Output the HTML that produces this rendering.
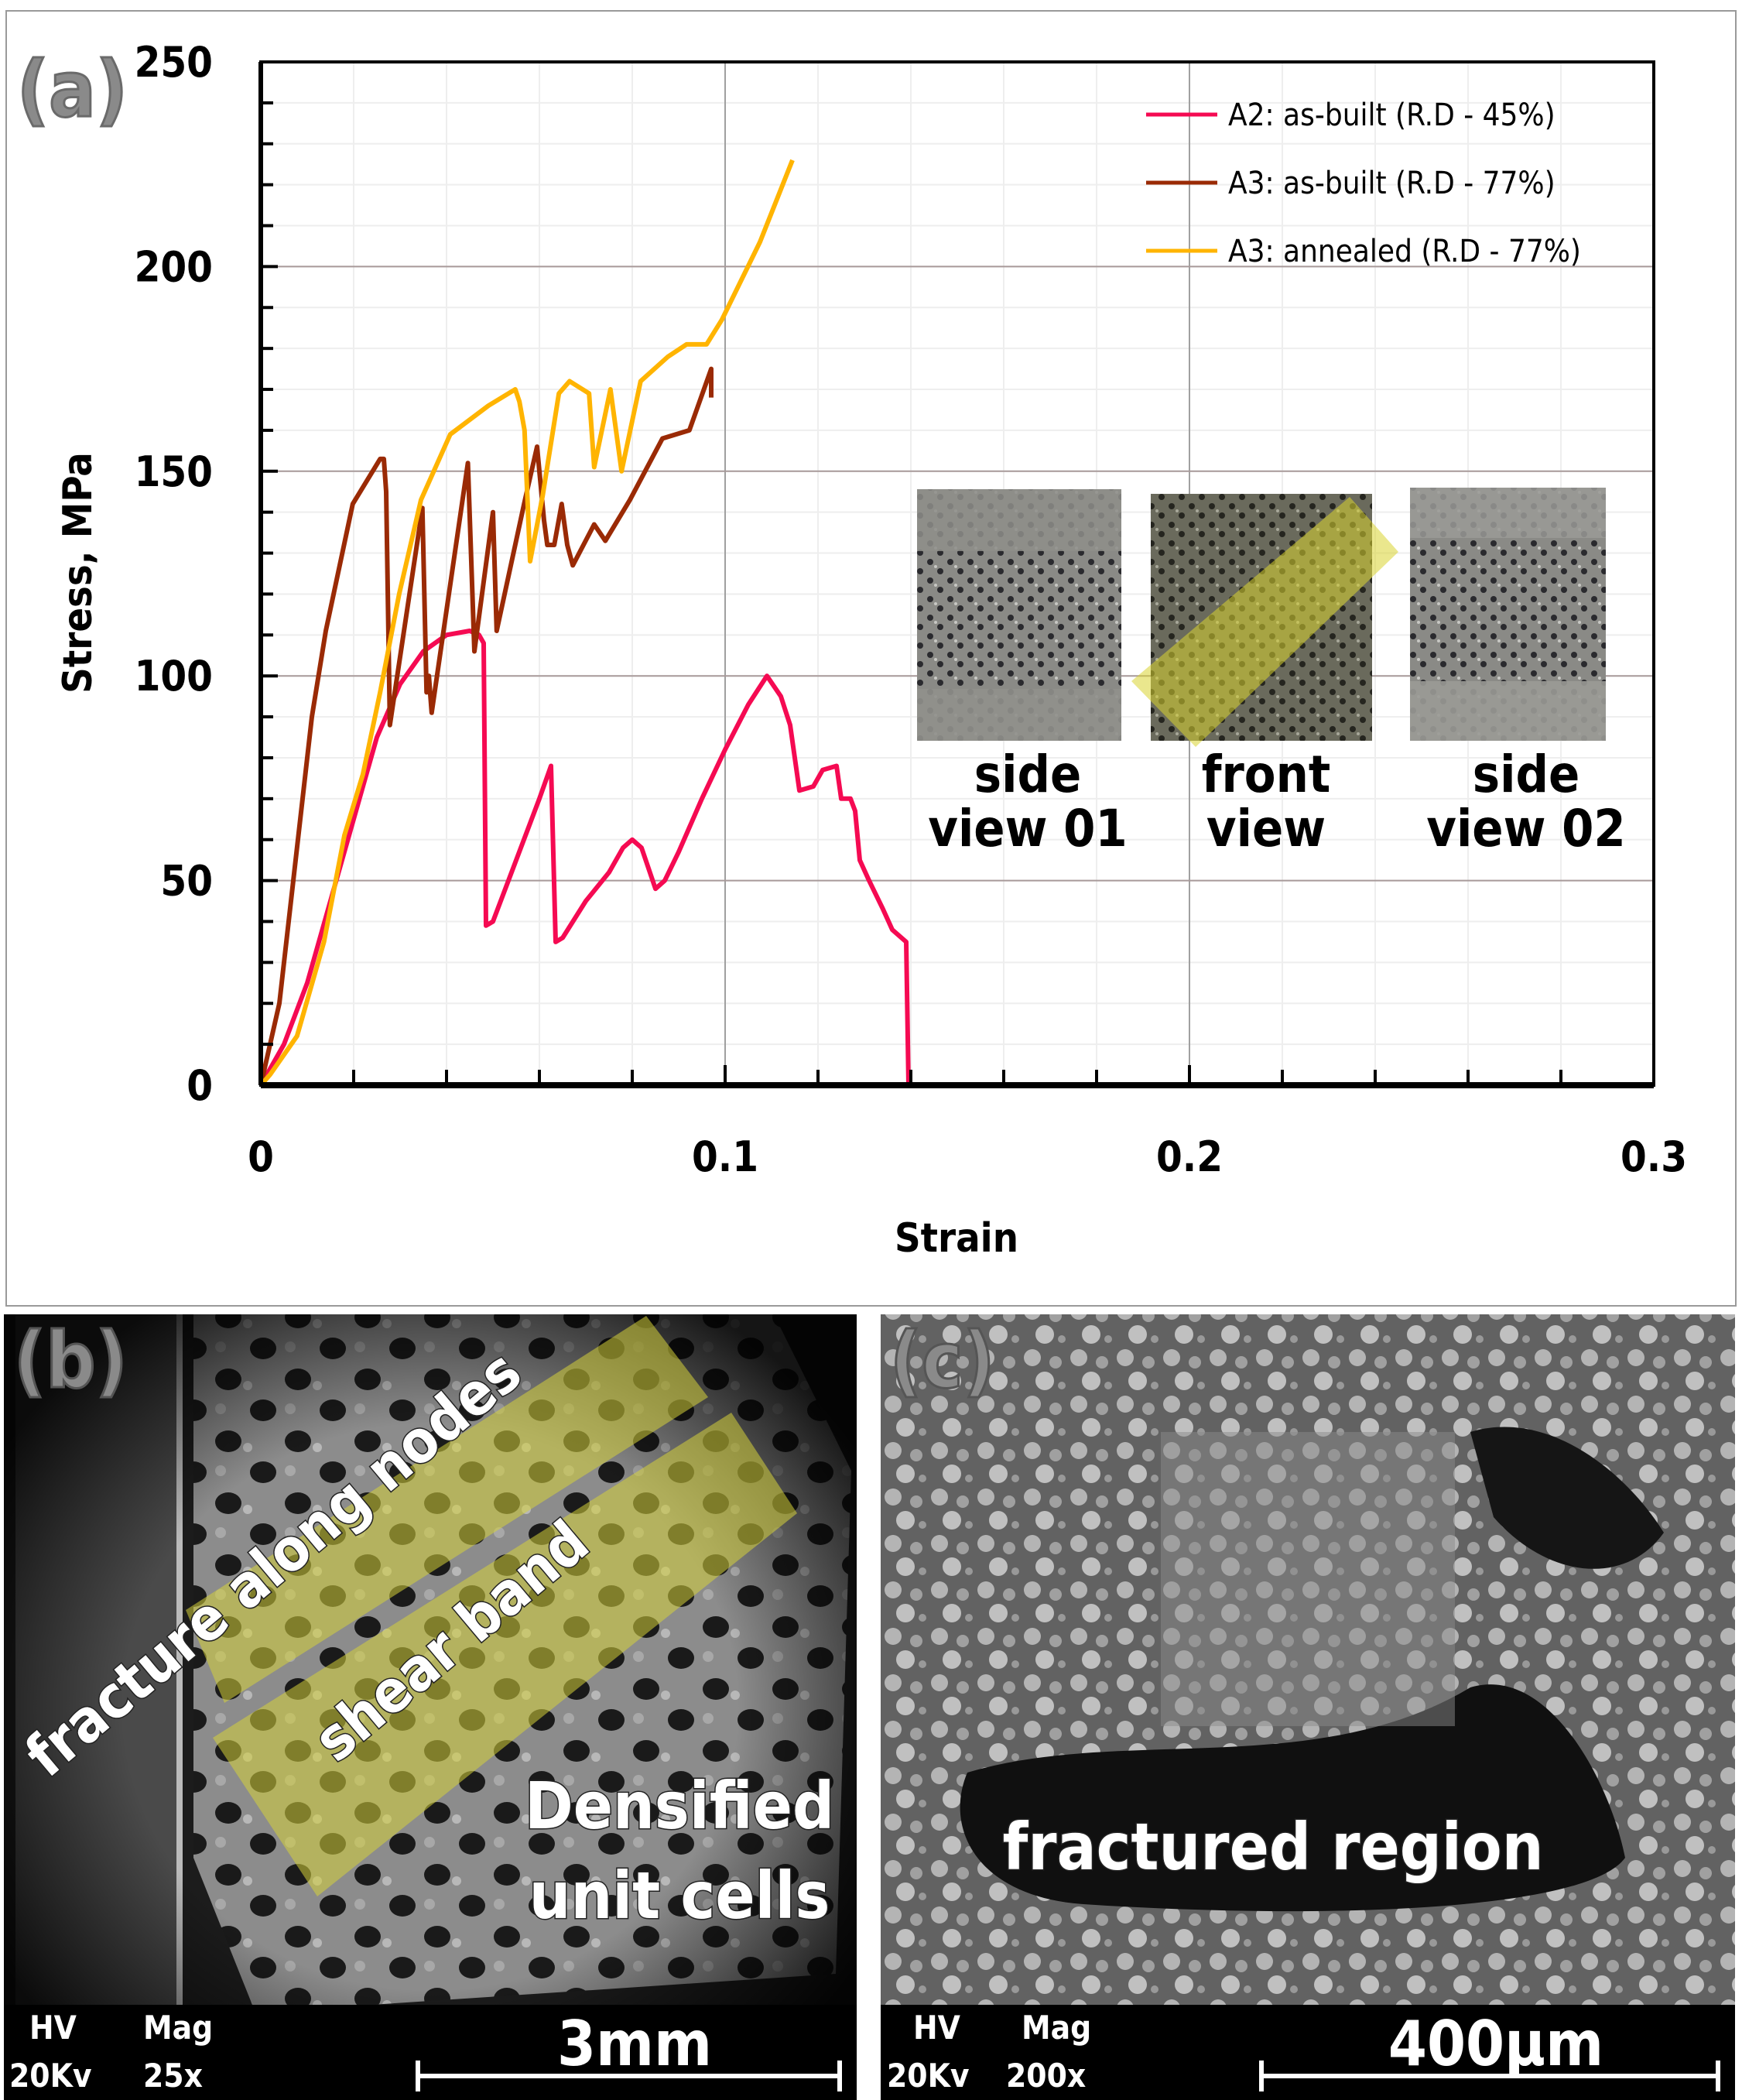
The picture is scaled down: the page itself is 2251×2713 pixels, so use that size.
<!DOCTYPE html>
<html><head><meta charset="utf-8"><style>
html,body{margin:0;padding:0;background:#fff;}
svg{display:block;}
text{font-family:"DejaVu Sans Condensed","DejaVu Sans","Liberation Sans",sans-serif;}
</style></head><body>
<svg id="fig" width="2251" height="2713" viewBox="0 0 2251 2713" xmlns="http://www.w3.org/2000/svg">
<defs>
<pattern id="lattice" width="26" height="24" patternUnits="userSpaceOnUse">
<rect width="26" height="24" fill="#8a8a86"/>
<circle cx="6" cy="6" r="4" fill="#2a2a2e"/><circle cx="19" cy="18" r="4" fill="#2a2a2e"/>
<circle cx="13" cy="12" r="2" fill="#c8c8c4"/>
</pattern>
<pattern id="lattice2" width="26" height="24" patternUnits="userSpaceOnUse">
<rect width="26" height="24" fill="#6a6a5c"/>
<circle cx="6" cy="6" r="4" fill="#25251f"/><circle cx="19" cy="18" r="4" fill="#25251f"/>
<circle cx="13" cy="12" r="2" fill="#a8a89a"/>
</pattern>
<pattern id="semb" width="90" height="80" patternUnits="userSpaceOnUse">
<rect width="90" height="80" fill="#8c8c8c"/>
<ellipse cx="25" cy="22" rx="17" ry="14" fill="#1a1a1a"/>
<ellipse cx="70" cy="62" rx="17" ry="14" fill="#1a1a1a"/>
<circle cx="50" cy="30" r="6" fill="#b8b8b8"/><circle cx="15" cy="60" r="7" fill="#a8a8a8"/>
</pattern>
<pattern id="semc" width="60" height="60" patternUnits="userSpaceOnUse">
<rect width="60" height="60" fill="#626262"/>
<circle cx="14" cy="14" r="11" fill="#b4b4b4"/><circle cx="44" cy="20" r="8" fill="#a0a0a0"/>
<circle cx="30" cy="44" r="12" fill="#c0c0c0"/><circle cx="52" cy="50" r="5" fill="#999"/>
</pattern>
<radialGradient id="vig" cx="0.5" cy="0.5" r="0.6">
<stop offset="0.6" stop-color="#000" stop-opacity="0"/><stop offset="1" stop-color="#000" stop-opacity="0.85"/>
</radialGradient>
</defs>

<rect x="8" y="14" width="2235" height="1673" fill="#fff" stroke="#9a9a9a" stroke-width="2"/>
<g id="grid"></g>
<g id="insets">
<rect x="1185" y="632" width="264" height="325" fill="url(#lattice)"/>
<rect x="1185" y="632" width="264" height="80" fill="#8e8e8a" opacity="0.85"/>
<rect x="1185" y="890" width="264" height="67" fill="#90908c" opacity="0.9"/>
<rect x="1487" y="638" width="286" height="319" fill="url(#lattice2)"/>
<polygon points="1744,642 1807,713 1545,965 1462,880" fill="#d8d430" opacity="0.55"/>
<rect x="1822" y="630" width="253" height="327" fill="url(#lattice)"/>
<rect x="1822" y="630" width="253" height="65" fill="#9a9a96" opacity="0.85"/>
<rect x="1822" y="880" width="253" height="77" fill="#9a9a96" opacity="0.9"/>
<g font-weight="bold" font-size="66" text-anchor="middle" fill="#000">
<text x="1328" y="1023">side</text>
<text x="1328" y="1093">view 01</text>
<text x="1636" y="1023">front</text>
<text x="1636" y="1093">view</text>
<text x="1972" y="1023">side</text>
<text x="1972" y="1093">view 02</text>
</g>
</g>
<g id="curves"></g>
<g id="axes"></g>
<g id="legend"></g>
<text x="22" y="150" font-size="100" font-weight="bold" fill="#8a8a8a" stroke="#6a6a6a" stroke-width="3">(a)</text>
<text transform="translate(118,740) rotate(-90)" font-size="52" font-weight="bold" text-anchor="middle">Stress, MPa</text>
<text x="1236" y="1617" font-size="52" font-weight="bold" text-anchor="middle">Strain</text>

<!-- panel b -->
<g>
<rect x="5" y="1698" width="1102" height="1015" fill="#1c1c1c"/>
<rect x="20" y="1698" width="210" height="900" fill="#4a4a4a"/>
<rect x="228" y="1698" width="8" height="900" fill="#bbb"/>
<polygon points="250,1698 1000,1698 1100,1900 1080,2550 330,2600 250,2400" fill="url(#semb)"/>
<rect x="5" y="1698" width="1102" height="1015" fill="url(#vig)"/>
<polygon points="240,2080 835,1700 915,1805 290,2200" fill="#d6d23a" opacity="0.55"/>
<polygon points="275,2245 945,1825 1030,1955 410,2450" fill="#d6d23a" opacity="0.55"/>
<g font-weight="bold" fill="#fff" stroke="#222" stroke-width="3" paint-order="stroke">
<text transform="translate(370,2040) rotate(-40)" font-size="76" text-anchor="middle">fracture along nodes</text>
<text transform="translate(600,2140) rotate(-40)" font-size="76" text-anchor="middle">shear band</text>
<text x="878" y="2362" font-size="84" text-anchor="middle">Densified</text>
<text x="878" y="2478" font-size="84" text-anchor="middle">unit cells</text>
</g>
<rect x="5" y="2590" width="1102" height="123" fill="#000"/>
<g fill="#fff" font-weight="bold" font-size="42">
<text x="38" y="2634">HV</text><text x="12" y="2696">20Kv</text>
<text x="185" y="2634">Mag</text><text x="185" y="2696">25x</text>
<text x="820" y="2668" font-size="80" text-anchor="middle">3mm</text>
</g>
<g stroke="#fff" stroke-width="6"><line x1="540" y1="2682" x2="1085" y2="2682"/><line x1="540" y1="2662" x2="540" y2="2702"/><line x1="1085" y1="2662" x2="1085" y2="2702"/></g>
<text x="18" y="1792" font-size="100" font-weight="bold" fill="#8a8a8a" stroke="#555" stroke-width="3">(b)</text>
</g>

<!-- panel c -->
<g>
<rect x="1138" y="1698" width="1104" height="1015" fill="url(#semc)"/>
<path d="M1250,2290 C1450,2230 1700,2300 1900,2180 C2000,2150 2080,2300 2100,2400 C2050,2470 1700,2480 1400,2460 C1260,2450 1220,2360 1250,2290Z" fill="#101010"/>
<path d="M1900,1850 C2000,1820 2100,1900 2150,1980 C2100,2050 2000,2040 1930,1960Z" fill="#151515"/>
<rect x="1500" y="1850" width="380" height="380" fill="#8a8a8a" opacity="0.5"/>
<text x="1645" y="2415" font-size="84" font-weight="bold" fill="#fff" stroke="#222" stroke-width="3" paint-order="stroke" text-anchor="middle">fractured region</text>
<rect x="1138" y="2590" width="1104" height="123" fill="#000"/>
<g fill="#fff" font-weight="bold" font-size="42">
<text x="1180" y="2634">HV</text><text x="1146" y="2696">20Kv</text>
<text x="1320" y="2634">Mag</text><text x="1300" y="2696">200x</text>
<text x="1933" y="2668" font-size="80" text-anchor="middle">400μm</text>
</g>
<g stroke="#fff" stroke-width="6"><line x1="1630" y1="2682" x2="2220" y2="2682"/><line x1="1630" y1="2662" x2="1630" y2="2702"/><line x1="2220" y1="2662" x2="2220" y2="2702"/></g>
<text x="1150" y="1792" font-size="100" font-weight="bold" fill="#8a8a8a" stroke="#555" stroke-width="3">(c)</text>
</g>
</svg>
<script>
const seriesNames = ["A2: as-built (R.D - 45%)", "A3: as-built (R.D - 77%)", "A3: annealed (R.D - 77%)"];
const seriesColors = ["#f50a52", "#9a2a05", "#ffb400"];
const a2Strain = [0,0.005,0.01,0.015,0.02,0.025,0.03,0.035,0.04,0.045,0.047,0.048,0.0485,0.05,0.055,0.06,0.0625,0.0635,0.065,0.07,0.075,0.078,0.08,0.082,0.085,0.087,0.09,0.095,0.1,0.105,0.109,0.112,0.114,0.115,0.116,0.119,0.121,0.124,0.125,0.127,0.128,0.129,0.131,0.134,0.136,0.139,0.1395];
const a2Stress = [0,10,25,45,65,85,98,106,110,111,110,108,39,40,55,70,78,35,36,45,52,58,60,58,48,50,57,70,82,93,100,95,88,80,72,73,77,78,70,70,67,55,50,43,38,35,0];
const a3bStrain = [0,0.004,0.008,0.011,0.014,0.0198,0.0257,0.0265,0.027,0.0278,0.0348,0.0357,0.0362,0.0368,0.0446,0.046,0.050,0.0508,0.0567,0.0595,0.061,0.0617,0.0632,0.0648,0.066,0.0672,0.0718,0.0742,0.0795,0.0865,0.0923,0.097,0.097];
const a3bStress = [0,20,60,90,111,142,153,153,145,88,141,96,100,91,152,106,140,111,142,156,138,132,132,142,132,127,137,133,143,158,160,175,168];
const a3aStrain = [0,0.002,0.0078,0.0136,0.018,0.022,0.0257,0.0298,0.0345,0.0408,0.049,0.0548,0.0557,0.0568,0.058,0.0607,0.0642,0.0665,0.0707,0.0718,0.0753,0.0777,0.0818,0.0877,0.0917,0.096,0.0993,0.1075,0.1145];
const a3aStress = [0,2.6,12,35,61,76,96,120,143,159,166,170,167,160,128,144,169,172,169,151,170,150,172,178,181,181,187,206,226];
const xTicks = [0, 0.1, 0.2, 0.3];
const yTicks = [0, 50, 100, 150, 200, 250];
</script>
<script>
const NS = "http://www.w3.org/2000/svg";
const X0 = 337, X1 = 2137, Y0 = 1402, Y1 = 80;
function xs(v){ return X0 + (v/0.3)*(X1-X0); }
function ys(v){ return Y0 - (v/250)*(Y0-Y1); }
function mk(tag, attrs, parent){ const e=document.createElementNS(NS,tag); for(const k in attrs) e.setAttribute(k, attrs[k]); parent.appendChild(e); return e; }
const grid=document.getElementById('grid'), axes=document.getElementById('axes'), curves=document.getElementById('curves'), legend=document.getElementById('legend');
for(let i=1;i<15;i++){ const v=i*0.02; const l=mk('line',{x1:xs(v),x2:xs(v),y1:Y1,y2:Y0,stroke:'#eeeeee','stroke-width':2},grid);

 }
for(let i=1;i<25;i++){ const v=i*10; const l=mk('line',{x1:X0,x2:X1,y1:ys(v),y2:ys(v),stroke:'#eeeeee','stroke-width':2},grid);

 }
[0.1,0.2].forEach(v=>{ const l=mk('line',{x1:xs(v),x2:xs(v),y1:Y1,y2:Y0,stroke:'#a0a0a0','stroke-width':2},grid);

 });
[50,100,150,200].forEach(v=>{ const l=mk('line',{x1:X0,x2:X1,y1:ys(v),y2:ys(v),stroke:'#a89a9a','stroke-width':2},grid);

 });
mk('rect',{x:X0,y:Y1,width:X1-X0,height:Y0-Y1,fill:'none',stroke:'#000','stroke-width':4},axes);
mk('line',{x1:X0,x2:X1,y1:Y0,y2:Y0,stroke:'#000','stroke-width':8},axes);
mk('line',{x1:X0,x2:X0,y1:Y1,y2:Y0,stroke:'#000','stroke-width':6},axes);
for(let i=1;i<15;i++){ const v=i*0.02; mk('line',{x1:xs(v),x2:xs(v),y1:Y0,y2:Y0-(i%5==0?26:20),stroke:'#000','stroke-width':4},axes); }
for(let i=1;i<25;i++){ const v=i*10; mk('line',{x1:X0,x2:X0+(i%5==0?22:16),y1:ys(v),y2:ys(v),stroke:'#000','stroke-width':4},axes); }
xTicks.forEach(v=>{ const t=mk('text',{x:xs(v),y:1513,'font-size':54,'font-weight':'bold','text-anchor':'middle'},axes); t.textContent=String(v);

 });
yTicks.forEach(v=>{ const t=mk('text',{x:275,y:ys(v)+19,'font-size':54,'font-weight':'bold','text-anchor':'end'},axes); t.textContent=String(v);

 });
const sets=[[a2Strain,a2Stress],[a3bStrain,a3bStress],[a3aStrain,a3aStress]];
[0,1,2].forEach(i=>{ const [sx,sy]=sets[i]; let d=''; sx.forEach((v,j)=>{ d+=(j?'L':'M')+xs(v).toFixed(1)+','+ys(sy[j]).toFixed(1); });
const p=mk('path',{d:d,fill:'none',stroke:seriesColors[i],'stroke-width':6,'stroke-linejoin':'round'},curves);

 });
seriesNames.forEach((n,i)=>{ const y=148+i*88;
const g=mk('g',{},legend);


mk('line',{x1:1481,x2:1573,y1:y,y2:y,stroke:seriesColors[i],'stroke-width':5},g);
const t=mk('text',{x:1587,y:y+14,'font-size':40},g); t.textContent=n; });
</script>
</body></html>
